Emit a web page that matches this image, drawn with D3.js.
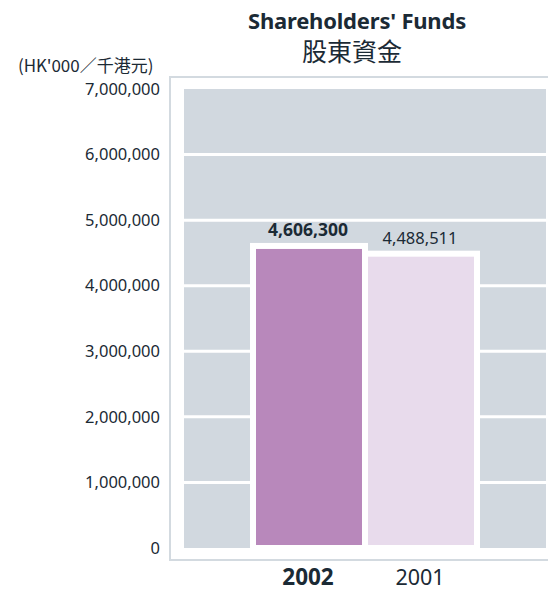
<!DOCTYPE html>
<html>
<head>
<meta charset="utf-8">
<script src="https://cdn.jsdelivr.net/npm/d3@7"></script>
<style>
  body { margin: 0; background: #fff; }
  svg text { font-family: "Noto Sans", "Open Sans", sans-serif; fill: #1b2a35; }
  .cjk { font-family: "Noto Sans CJK TC", "Noto Sans", sans-serif; }
</style>
</head>
<body>
<div id="chart"></div>
<script>
// Chart data
var years = ["2002", "2001"];
var values = [4606300, 4488511];
var valueLabels = ["4,606,300", "4,488,511"];
var yTicks = [0, 1000000, 2000000, 3000000, 4000000, 5000000, 6000000, 7000000];
var barColors = ["#b888bb", "#e8dbec"];

var width = 548, height = 592;
var plot = { left: 184, right: 546, top: 89, bottom: 548 };

var svg = d3.select('#chart').append('svg')
    .attr('width', width)
    .attr('height', height);

// Outer frame (left, top, bottom lines only; right side runs off the page)
svg.append('rect')
    .attr('x', 170).attr('y', 77)
    .attr('width', 400).attr('height', 483)
    .attr('fill', '#fff')
    .attr('stroke', '#d3dae0')
    .attr('stroke-width', 2);

// Scales
var x = d3.scaleBand().domain(years)
    .range([plot.left, plot.right])
    .paddingInner(0)
    .paddingOuter(0.616);
var y = d3.scaleLinear().domain([0, 7000000])
    .range([plot.bottom, plot.top]);

// Plot background
svg.append('rect')
    .attr('x', plot.left).attr('y', plot.top)
    .attr('width', plot.right - plot.left)
    .attr('height', plot.bottom - plot.top)
    .attr('fill', '#d1d8df');

// White gridlines
svg.append('g').selectAll('line')
    .data(yTicks.slice(1, -1))
    .enter().append('line')
    .attr('x1', plot.left).attr('x2', plot.right)
    .attr('y1', function(d) { return y(d); })
    .attr('y2', function(d) { return y(d); })
    .attr('stroke', '#fff')
    .attr('stroke-width', 3);

// Bars
svg.append('g').selectAll('rect')
    .data(years)
    .enter().append('rect')
    .attr('x', function(d) { return x(d); })
    .attr('y', function(d, i) { return y(values[i]); })
    .attr('width', x.bandwidth())
    .attr('height', function(d, i) { return y(0) - y(values[i]); })
    .attr('fill', function(d, i) { return barColors[i]; })
    .attr('stroke', '#fff')
    .attr('stroke-width', 6);

// Value labels
svg.append('g').selectAll('text')
    .data(years)
    .enter().append('text')
    .attr('x', function(d) { return x(d) + x.bandwidth() / 2 - 1; })
    .attr('y', function(d, i) { return y(values[i]) - 10; })
    .attr('text-anchor', 'middle')
    .style('font-size', function(d, i) { return i == 0 ? '17.5px' : '16.5px'; })
    .style('font-weight', function(d, i) { return i == 0 ? 'bold' : 'normal'; })
    .text(function(d, i) { return valueLabels[i]; });

// Y axis
var yAxis = d3.axisLeft(y)
    .tickValues(yTicks)
    .tickSize(0)
    .tickPadding(24)
    .tickFormat(d3.format(','));
var gy = svg.append('g')
    .attr('transform', 'translate(' + plot.left + ',0)')
    .call(yAxis);
gy.select('.domain').remove();
gy.selectAll('text')
    .attr('fill', null)
    .style('font-size', '16.5px');

// X axis
var xAxis = d3.axisBottom(x).tickSize(0).tickPadding(0);
var gx = svg.append('g')
    .attr('transform', 'translate(0,' + 585 + ')')
    .call(xAxis);
gx.select('.domain').remove();
gx.selectAll('text')
    .attr('dy', 0)
    .attr('fill', null)
    .attr('x', -1)
    .style('font-size', function(d, i) { return i == 0 ? '22.5px' : '21.5px'; })
    .style('font-weight', function(d, i) { return i == 0 ? 'bold' : 'normal'; });

// Titles
svg.append('text')
    .attr('x', 357).attr('y', 29)
    .attr('text-anchor', 'middle')
    .style('font-size', '22px')
    .style('font-weight', 'bold')
    .style('letter-spacing', '-0.2px')
    .text("Shareholders' Funds");
svg.append('text')
    .attr('class', 'cjk')
    .attr('x', 352).attr('y', 61)
    .attr('text-anchor', 'middle')
    .style('font-size', '25px')
    .text('股東資金');
svg.append('text')
    .attr('class', 'cjk')
    .attr('x', 18).attr('y', 72)
    .style('font-size', '17px')
    .text("(HK'000／千港元)");
</script>
</body>
</html>
